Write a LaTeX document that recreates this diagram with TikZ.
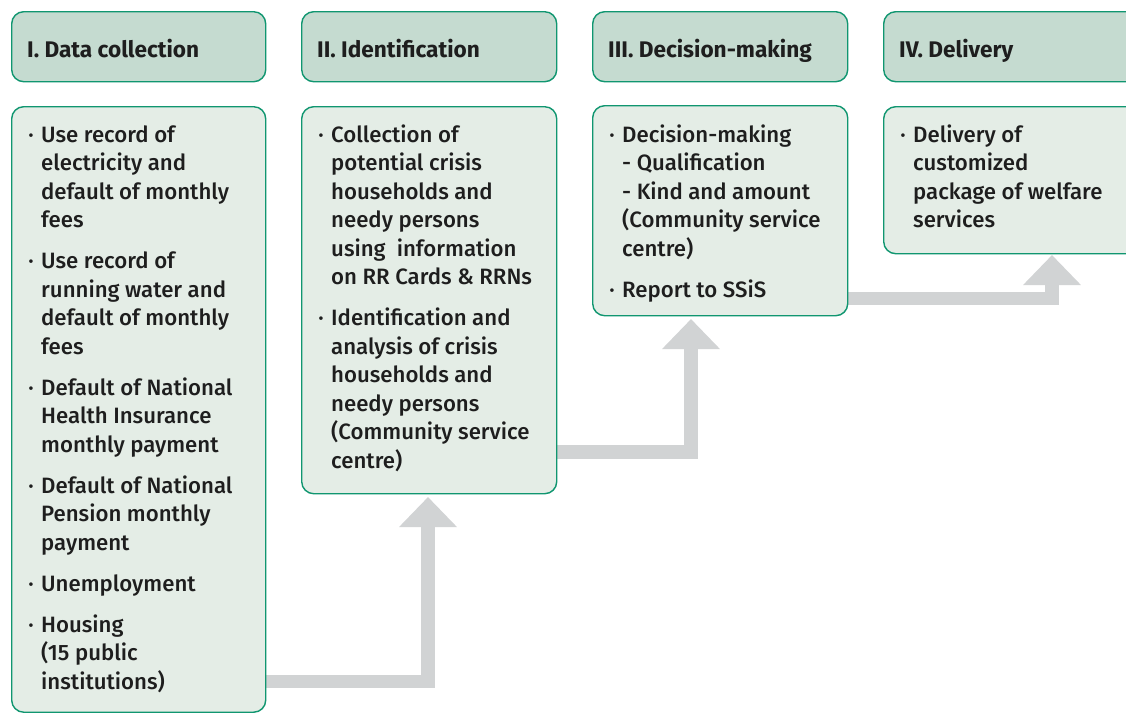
\documentclass[tikz,border=0pt]{standalone}
\usepackage{fontspec}
\setmainfont{Fira Sans}[UprightFont={* Medium},BoldFont={* Bold}]
\usetikzlibrary{arrows.meta}
\definecolor{hdrfill}{RGB}{197,219,208}
\definecolor{bodyfill}{RGB}{228,237,230}
\definecolor{edge}{RGB}{16,150,112}
\definecolor{flowgray}{RGB}{209,211,212}
\definecolor{ink}{RGB}{30,30,30}
\newcommand{\itm}{\makebox[0pt][r]{\textperiodcentered\hspace{7.5pt}}}
\newcommand{\bodytext}[1]{\parbox[t]{300pt}{\fontsize{22.2}{28.5}\selectfont\setlength{\parskip}{12.5pt}\setlength{\parindent}{0pt}#1}}
\begin{document}
\begin{tikzpicture}[x=1pt,y=-1pt,
  panel/.style={draw=edge, line width=1.4pt, rounded corners=12pt, anchor=north west, inner sep=0pt},
  hdr/.style={panel, fill=hdrfill, minimum height=70pt},
  bdy/.style={panel, fill=bodyfill},
  htxt/.style={anchor=base west, inner sep=0pt, text=ink, font=\fontsize{22.6}{24}\selectfont\bfseries},
  btxt/.style={anchor=base west, inner sep=0pt, text=ink},
  flow/.style={draw=flowgray, line width=13.5pt, line join=miter, -{Triangle[width=56pt,length=30pt]}}
]
\clip (0,0) rectangle (1126,713);
\fill[white] (0,0) rectangle (1126,713);

% connectors (drawn first, boxes cover their start)
\coordinate (c1) at (265,681.5);
\coordinate (c2) at (556,452);
\coordinate (c3) at (847,298.5);
\coordinate (e1) at (428,497);
\coordinate (e2) at (691,319);
\coordinate (e3) at (1052,255);
\draw[flow] (c1) -| (e1);
\draw[flow] (c2) -| (e2);
\draw[flow] (c3) -| (e3);

% headers
\node[hdr, minimum width=254pt] (h1) at (11,11) {};
\node[hdr, minimum width=255pt] (h2) at (301,11) {};
\node[hdr, minimum width=255pt] (h3) at (592,11) {};
\node[hdr, minimum width=260pt] (h4) at (883,11) {};
\node[htxt] (ht1) at (27,57) {I. Data collection};
\node[htxt] (ht2) at (317,57) {II. Identification};
\node[htxt] (ht3) at (608,57) {III. Decision-making};
\node[htxt] (ht4) at (899,57) {IV. Delivery};

% bodies
\node[bdy, minimum width=254pt, minimum height=605.5pt] (b1) at (11,106) {};
\node[bdy, minimum width=255pt, minimum height=387pt] (b2) at (301,106) {};
\node[bdy, minimum width=255pt, minimum height=210pt] (b3) at (592,105) {};
\node[bdy, minimum width=260pt, minimum height=147pt] (b4) at (883,106) {};

\node[btxt] (bt1) at (41,142) {\bodytext{%
\itm Use record of\\electricity and\\default of monthly\\fees\par
\itm Use record of\\running water and\\default of monthly\\fees\par
\itm Default of National\\Health Insurance\\monthly payment\par
\itm Default of National\\Pension monthly\\payment\par
\itm Unemployment\par
\itm Housing\\(15 public\\institutions)}};

\node[btxt] (bt2) at (331,142) {\bodytext{%
\itm Collection of\\potential crisis\\households and\\needy persons\\using~ information\\on RR Cards \& RRNs\par
\itm Identification and\\analysis of crisis\\households and\\needy persons\\(Community service\\centre)}};

\node[btxt] (bt3) at (622,142) {\bodytext{%
\itm Decision-making\\- Qualification\\- Kind and amount\\(Community service\\centre)\par
\itm Report to SSiS}};

\node[btxt] (bt4) at (913,142) {\bodytext{%
\itm Delivery of\\customized\\package of welfare\\services}};
\end{tikzpicture}
\end{document}
